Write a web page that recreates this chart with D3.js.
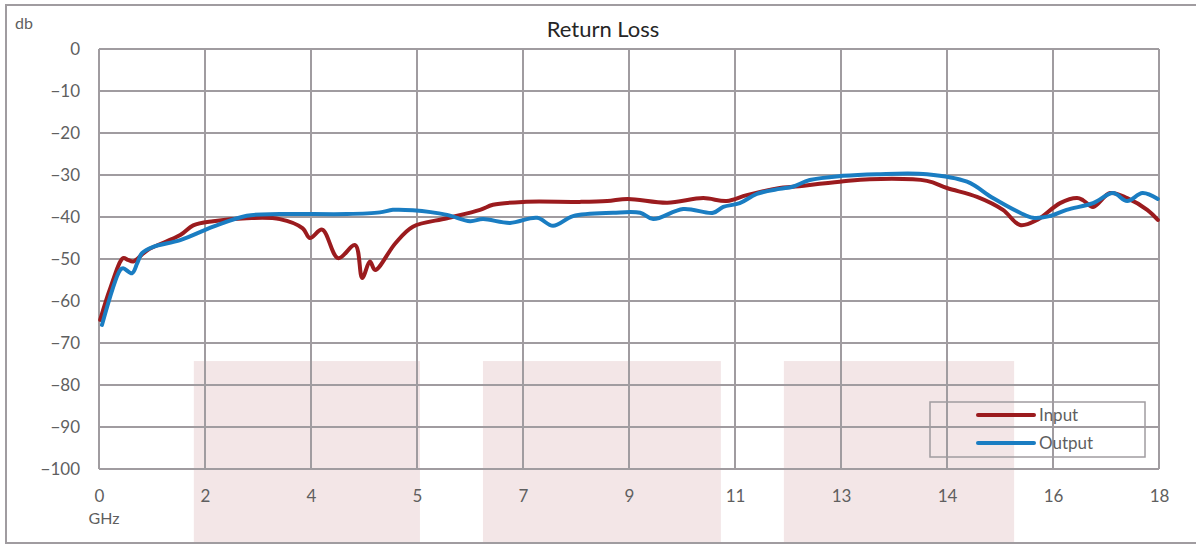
<!DOCTYPE html>
<html>
<head>
<meta charset="utf-8">
<script src="https://cdn.jsdelivr.net/npm/d3@7"></script>
<style>
    body { margin: 0; background: #fff; }
    text { font-family: Lato, "Open Sans", sans-serif; }
</style>
</head>
<body>
<script>
// frequency in GHz, return loss in dB
var inputGhz = [0.02, 0.19, 0.41, 0.49, 0.58, 0.82, 1.38, 1.60, 1.94, 2.51, 3.07, 3.46, 3.58, 3.79, 4.06, 4.35, 4.47, 4.60, 4.69, 5.03, 5.33, 5.91, 6.47, 6.69, 7.20, 8.17, 8.63, 8.98, 9.65, 10.26, 10.66, 11.00, 11.56, 11.78, 12.58, 13.09, 14.06, 14.40, 14.91, 15.35, 15.64, 15.93, 16.32, 16.61, 16.71, 16.88, 17.17, 17.46, 17.80, 17.98];
var inputDb = [-64.5, -57, -49.8, -50.2, -50.6, -47.9, -44.3, -42, -41, -40.3, -40.5, -42.7, -45, -43, -49.8, -46.7, -54.5, -50.6, -52.6, -46.3, -42.3, -40.3, -38.3, -37.1, -36.4, -36.4, -36.2, -35.7, -36.6, -35.5, -36.2, -34.8, -33.1, -32.8, -31.6, -31, -31.4, -33.1, -35.2, -38.3, -41.9, -40.7, -36.7, -35.5, -36, -37.6, -34.3, -35.5, -38.3, -40.7];

var outputGhz = [0.05, 0.36, 0.41, 0.56, 0.65, 0.73, 0.92, 1.38, 1.94, 2.51, 3.07, 4.21, 4.77, 4.99, 5.33, 5.91, 6.30, 6.52, 6.98, 7.44, 7.71, 8.05, 8.73, 9.19, 9.41, 9.92, 10.43, 10.60, 10.88, 11.17, 11.56, 11.78, 12.07, 12.63, 13.21, 14.06, 14.74, 15.18, 15.64, 15.86, 16.14, 16.43, 16.88, 17.22, 17.46, 17.72, 17.98];
var outputDb = [-65.7, -52.6, -52.2, -53.4, -51, -48.6, -47.1, -45.5, -42.3, -39.7, -39.3, -39.3, -38.9, -38.3, -38.4, -39.5, -41, -40.5, -41.4, -40.2, -42.1, -39.8, -39, -39, -40.5, -38.1, -39, -37.6, -36.7, -34.5, -33.3, -32.8, -31.2, -30.2, -29.8, -29.8, -31.6, -35.5, -39, -40.2, -39.8, -38.3, -36.7, -34.3, -36.2, -34.3, -35.7];

var seriesNames = ["Input", "Output"];
var seriesColors = ["#9b1b1e", "#1a7dc2"];

// shaded bands (GHz start, GHz end), top edge in dB
var bandStart = [1.61, 6.52, 11.63];
var bandEnd = [5.45, 10.56, 15.54];
var bandTop = -74.3;

var xTicks = d3.range(0, 18.01, 1.8);
var yTicks = d3.range(0, -101, -10);

var width = 1196,
    height = 544;

var svg = d3.select("body")
    .append("svg")
    .attr("width", width)
    .attr("height", height);

var x = d3.scaleLinear().domain([0, 18]).range([99, 1159]);
var y = d3.scaleLinear().domain([-100, 0]).range([469, 49]);

// shaded bands, running down past the axis
svg.selectAll(".band")
    .data(bandStart)
    .enter()
    .append("rect")
    .attr("class", "band")
    .attr("x", function (d) { return x(d); })
    .attr("width", function (d, i) { return x(bandEnd[i]) - x(d); })
    .attr("y", y(bandTop))
    .attr("height", height - y(bandTop))
    .attr("fill", "#f3e6e7");

// grid
svg.append("g")
    .selectAll("line")
    .data(yTicks)
    .enter()
    .append("line")
    .attr("x1", x(0)).attr("x2", x(18))
    .attr("y1", function (d) { return y(d); })
    .attr("y2", function (d) { return y(d); })
    .attr("stroke", "#a09ca0")
    .attr("stroke-width", 2);

svg.append("g")
    .selectAll("line")
    .data(xTicks)
    .enter()
    .append("line")
    .attr("y1", y(0)).attr("y2", y(-100))
    .attr("x1", function (d) { return x(d); })
    .attr("x2", function (d) { return x(d); })
    .attr("stroke", "#a09ca0")
    .attr("stroke-width", 2);

// axes (labels only, grid draws the lines)
var xAxis = svg.append("g")
    .attr("transform", "translate(0," + y(-100) + ")")
    .call(d3.axisBottom(x).tickValues(xTicks).tickFormat(d3.format(".0f")).tickSize(0).tickPadding(21));
var yAxis = svg.append("g")
    .attr("transform", "translate(" + x(0) + ",0)")
    .call(d3.axisLeft(y).tickValues(yTicks).tickFormat(d3.format("d")).tickSize(0).tickPadding(19));

[xAxis, yAxis].forEach(function (g) {
    g.select(".domain").remove();
    g.selectAll("text")
        .attr("fill", "#5f5f5f")
        .style("font-size", "17px")
        .style("font-family", "Lato, 'Open Sans', sans-serif");
});
yAxis.selectAll("text").attr("dy", "0.35em");

svg.append("text")
    .attr("x", 104).attr("y", 524)
    .attr("text-anchor", "middle")
    .attr("fill", "#5f5f5f")
    .style("font-size", "16px")
    .text("GHz");

svg.append("text")
    .attr("x", 15).attr("y", 29)
    .attr("fill", "#5f5f5f")
    .style("font-size", "16px")
    .text("db");

svg.append("text")
    .attr("x", 603).attr("y", 37)
    .attr("text-anchor", "middle")
    .attr("fill", "#262626")
    .style("font-size", "22px")
    .text("Return Loss");

// lines
var line = d3.line()
    .x(function (d) { return x(d[0]); })
    .y(function (d) { return y(d[1]); })
    .curve(d3.curveCatmullRom.alpha(0.5));

var series = [d3.zip(inputGhz, inputDb), d3.zip(outputGhz, outputDb)];

svg.selectAll(".series")
    .data(series)
    .enter()
    .append("path")
    .attr("class", "series")
    .attr("d", line)
    .attr("fill", "none")
    .attr("stroke", function (d, i) { return seriesColors[i]; })
    .attr("stroke-width", 4)
    .attr("stroke-linejoin", "round")
    .attr("stroke-linecap", "round");

// legend
var legend = svg.append("g");
legend.append("rect")
    .attr("x", 930).attr("y", 402)
    .attr("width", 215).attr("height", 55)
    .attr("fill", "none")
    .attr("stroke", "#a09ca0")
    .attr("stroke-width", 1.5);

var item = legend.selectAll(".item")
    .data(seriesNames)
    .enter()
    .append("g")
    .attr("class", "item")
    .attr("transform", function (d, i) { return "translate(0," + (415 + i * 28) + ")"; });

item.append("line")
    .attr("x1", 978).attr("x2", 1034)
    .attr("stroke", function (d, i) { return seriesColors[i]; })
    .attr("stroke-width", 4)
    .attr("stroke-linecap", "round");

item.append("text")
    .attr("x", 1039).attr("dy", "0.35em")
    .attr("fill", "#5f5f5f")
    .style("font-size", "17px")
    .text(function (d) { return d; });

// outer frame
svg.append("rect")
    .attr("x", 6).attr("y", 5)
    .attr("width", 1210).attr("height", 538)
    .attr("fill", "none")
    .attr("stroke", "#a09ca0")
    .attr("stroke-width", 2);
</script>
</body>
</html>
